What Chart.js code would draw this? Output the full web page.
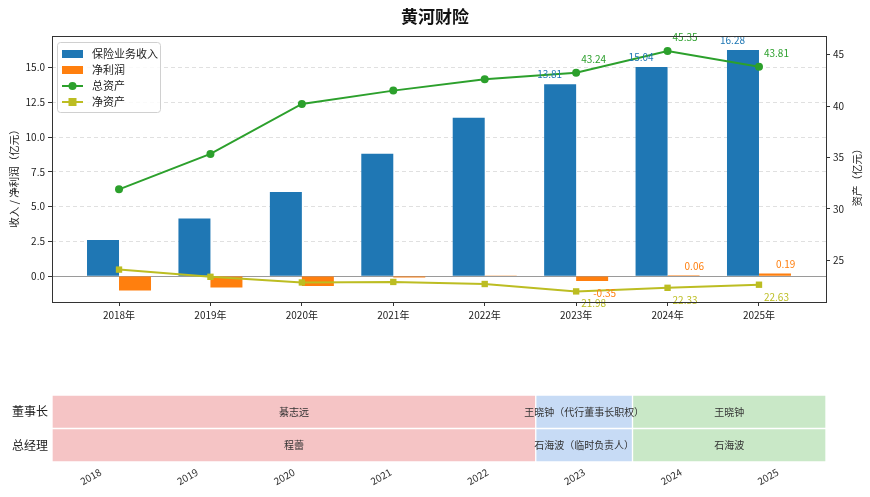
<!DOCTYPE html>
<html><head><meta charset="utf-8">
<script src="https://cdn.jsdelivr.net/npm/chart.js@4.4.0/dist/chart.umd.min.js"></script>
<style>
html,body{margin:0;padding:0;background:#fff;width:870px;height:497px;overflow:hidden}
#top{position:absolute;left:0;top:0}
#bot{position:absolute;left:0;top:340px}
</style></head><body>
<canvas id="top" width="870" height="340" style="width:870px;height:340px"></canvas>
<canvas id="bot" width="870" height="157" style="width:870px;height:157px"></canvas>
<script>
// ---------- data ----------
const years = ['2018','2019','2020','2021','2022','2023','2024','2025'];
const revenue = [2.60, 4.15, 6.05, 8.80, 11.40, 13.81, 15.04, 16.28];
const netProfit = [-1.05, -0.82, -0.72, -0.10, 0.01, -0.35, 0.06, 0.19];
const totalAssets = [31.9, 35.35, 40.2, 41.5, 42.6, 43.24, 45.35, 43.81];
const netAssets = [24.1, 23.4, 22.85, 22.9, 22.7, 21.98, 22.33, 22.63];
const labeledYears = ['2023','2024','2025'];
const leftTicks = [0, 2.5, 5, 7.5, 10, 12.5, 15];
const rightTicks = [25, 30, 35, 40, 45];
const roles = ['董事长','总经理'];
const chairNames = ['綦志远','王晓钟（代行董事长职权）','王晓钟'];
const chairStart = [2018, 2023, 2024];
const chairEnd = [2023, 2024, 2026];
const gmNames = ['程蕾','石海波（临时负责人）','石海波'];
const gmStart = [2018, 2023, 2024];
const gmEnd = [2023, 2024, 2026];

// ---------- styles ----------
const FONT = '"Noto Sans CJK SC", "DejaVu Sans", sans-serif';
Chart.defaults.font.family = FONT;
Chart.defaults.color = '#222';
const C_BLUE = '#1f77b4', C_ORANGE = '#ff7f0e', C_GREEN = '#2ca02c', C_OLIVE = '#bcbd22';
const periodColors = ['#f5c4c5', '#c7dbf5', '#c9e8c7'];

const labelIdx = labeledYears.map(y => years.indexOf(y));

const topPlugin = {
  id: 'topDecor',
  beforeDatasetsDraw(chart) {
    const {ctx, chartArea: a, scales} = chart;
    const y0 = scales.y.getPixelForValue(0);
    ctx.save();
    ctx.strokeStyle = '#9a9a9a'; ctx.lineWidth = 1;
    ctx.beginPath(); ctx.moveTo(a.left, Math.round(y0) + 0.5); ctx.lineTo(a.right, Math.round(y0) + 0.5); ctx.stroke();
    ctx.restore();
  },
  afterDatasetsDraw(chart) {
    const {ctx} = chart;
    ctx.save();
    ctx.font = '10px ' + FONT;
    ctx.textBaseline = 'middle';
    const m0 = chart.getDatasetMeta(0), m1 = chart.getDatasetMeta(1), m2 = chart.getDatasetMeta(2), m3 = chart.getDatasetMeta(3);
    labelIdx.forEach(i => {
      let el = m0.data[i];
      ctx.fillStyle = C_BLUE; ctx.textAlign = 'right';
      ctx.fillText(revenue[i].toFixed(2), el.x + 2, el.y - 10);
      el = m1.data[i];
      ctx.fillStyle = C_ORANGE; ctx.textAlign = 'left';
      ctx.fillText(netProfit[i].toFixed(2), el.x + 1, netProfit[i] >= 0 ? el.y - 9 : el.y + 12);
      el = m2.data[i];
      ctx.fillStyle = C_GREEN; ctx.textAlign = 'left';
      ctx.fillText(totalAssets[i].toFixed(2), el.x + 5, el.y - 14);
      el = m3.data[i];
      ctx.fillStyle = C_OLIVE; ctx.textAlign = 'left';
      ctx.fillText(netAssets[i].toFixed(2), el.x + 5, el.y + 12);
    });
    ctx.restore();
  },
  afterDraw(chart) {
    const {ctx, chartArea: a} = chart;
    ctx.save();
    // frame
    ctx.strokeStyle = '#333'; ctx.lineWidth = 1;
    ctx.strokeRect(Math.round(a.left) + 0.5, Math.round(a.top) + 0.5, Math.round(a.right - a.left), Math.round(a.bottom - a.top));
    // title
    ctx.fillStyle = '#111'; ctx.font = 'bold 17px ' + FONT; ctx.textAlign = 'center'; ctx.textBaseline = 'middle';
    ctx.fillText('黄河财险', 435, 17);
    // axis titles
    ctx.font = '10.5px ' + FONT; ctx.fillStyle = '#222';
    ctx.save(); ctx.translate(14, 176); ctx.rotate(-Math.PI / 2); ctx.fillText('收入 / 净利润（亿元）', 0, 0); ctx.restore();
    ctx.save(); ctx.translate(857, 175); ctx.rotate(-Math.PI / 2); ctx.fillText('资产（亿元）', 0, 0); ctx.restore();
    // legend
    const lx = a.left + 5, ly = a.top + 6, lw = 103, lh = 70;
    ctx.fillStyle = 'rgba(255,255,255,0.85)'; ctx.strokeStyle = '#d0d0d0'; ctx.lineWidth = 1;
    ctx.beginPath(); ctx.roundRect(lx + 0.5, ly + 0.5, lw, lh, 3); ctx.fill(); ctx.stroke();
    const items = chart.data.datasets;
    ctx.font = '11px ' + FONT; ctx.textAlign = 'left'; ctx.textBaseline = 'middle';
    items.forEach((ds, k) => {
      const yy = ly + 12 + k * 16;
      const hx = lx + 5;
      if (ds.type === 'bar') {
        ctx.fillStyle = ds.backgroundColor; ctx.fillRect(hx, yy - 4, 21, 8);
      } else {
        ctx.strokeStyle = ds.borderColor; ctx.lineWidth = 2;
        ctx.beginPath(); ctx.moveTo(hx, yy); ctx.lineTo(hx + 21, yy); ctx.stroke();
        ctx.fillStyle = ds.borderColor;
        if (ds.pointStyle === 'rect') { ctx.fillRect(hx + 10.5 - 4, yy - 4, 8, 8); }
        else { ctx.beginPath(); ctx.arc(hx + 10.5, yy, 4, 0, Math.PI * 2); ctx.fill(); }
      }
      ctx.fillStyle = '#222';
      ctx.fillText(ds.label, lx + 35, yy);
    });
    ctx.restore();
  }
};

const xyData = arr => arr.map((v, i) => ({x: i, y: v}));

new Chart(document.getElementById('top'), {
  type: 'bar',
  data: {
    datasets: [
      {type: 'bar', label: '保险业务收入', data: xyData(revenue), backgroundColor: C_BLUE, yAxisID: 'y', order: 2, categoryPercentage: 0.7, barPercentage: 1},
      {type: 'bar', label: '净利润', data: xyData(netProfit), backgroundColor: C_ORANGE, yAxisID: 'y', order: 2, categoryPercentage: 0.7, barPercentage: 1},
      {type: 'line', label: '总资产', data: xyData(totalAssets), borderColor: C_GREEN, backgroundColor: C_GREEN, pointStyle: 'circle', pointRadius: 4, pointBorderWidth: 0, borderWidth: 2, yAxisID: 'y1', order: 0},
      {type: 'line', label: '净资产', data: xyData(netAssets), borderColor: C_OLIVE, backgroundColor: C_OLIVE, pointStyle: 'rect', pointRadius: 4.5, pointBorderWidth: 0, borderWidth: 2, yAxisID: 'y1', order: 1}
    ]
  },
  options: {
    responsive: false, animation: false,
    layout: {padding: {top: 36, left: 0, right: 0, bottom: 0}},
    plugins: {legend: {display: false}, tooltip: {enabled: false}},
    scales: {
      x: {
        type: 'linear', min: -0.733, max: 7.733, offset: false,
        afterBuildTicks: s => { s.ticks = years.map((y, i) => ({value: i})); },
        afterFit: s => { s.height = 38; },
        ticks: {autoSkip: false, maxRotation: 0, minRotation: 0, padding: 3, font: {size: 10}, color: '#222',
          callback: (v, idx) => years[idx] + '年'},
        grid: {display: true, offset: false, drawOnChartArea: false, drawTicks: true, tickLength: 4, tickColor: '#333'},
        border: {display: false}
      },
      y: {
        type: 'linear', position: 'left', min: -1.87, max: 17.28,
        afterBuildTicks: s => { s.ticks = leftTicks.map(v => ({value: v})); },
        afterFit: s => { s.width = 52; },
        ticks: {padding: 3, font: {size: 10}, color: '#222', callback: v => Number(v).toFixed(1)},
        grid: {display: true, drawOnChartArea: true, color: 'rgba(190,190,190,0.6)', lineWidth: 0.8, drawTicks: true, tickLength: 4, tickColor: '#333', tickWidth: 1, tickBorderDash: []},
        border: {display: false, dash: [4, 3]}
      },
      y1: {
        type: 'linear', position: 'right', min: 20.95, max: 46.81,
        afterBuildTicks: s => { s.ticks = rightTicks.map(v => ({value: v})); },
        afterFit: s => { s.width = 44; },
        ticks: {padding: 3, font: {size: 10}, color: '#222', callback: v => String(v)},
        grid: {display: true, drawOnChartArea: false, drawTicks: true, tickLength: 4, tickColor: '#333'},
        border: {display: false}
      }
    }
  },
  plugins: [topPlugin]
});

// ---------- bottom timeline ----------
const segs = [];
chairNames.forEach((n, i) => segs.push({row: 0, name: n, s: chairStart[i], e: chairEnd[i], c: periodColors[i]}));
gmNames.forEach((n, i) => segs.push({row: 1, name: n, s: gmStart[i], e: gmEnd[i], c: periodColors[i]}));

const botPlugin = {
  id: 'botText',
  afterDatasetsDraw(chart) {
    const {ctx} = chart;
    ctx.save();
    ctx.font = '10px ' + FONT; ctx.fillStyle = '#333'; ctx.textAlign = 'center'; ctx.textBaseline = 'middle';
    chart.data.datasets.forEach((ds, di) => {
      const meta = chart.getDatasetMeta(di);
      meta.data.forEach((el, ri) => {
        if (ds.data[ri] == null) return;
        ctx.fillText(ds.label, (el.x + el.base) / 2, el.y);
      });
    });
    ctx.restore();
  }
};

new Chart(document.getElementById('bot'), {
  type: 'bar',
  data: {
    labels: roles,
    datasets: segs.map(sg => ({
      label: sg.name,
      data: roles.map((r, ri) => ri === sg.row ? [sg.s, sg.e] : null),
      backgroundColor: sg.c, borderColor: '#ffffff', borderWidth: 1, borderSkipped: false,
      grouped: false, barPercentage: 1, categoryPercentage: 1
    }))
  },
  options: {
    indexAxis: 'y', responsive: false, animation: false,
    layout: {padding: {top: 55, left: 0, right: 44, bottom: 0}},
    plugins: {legend: {display: false}, tooltip: {enabled: false}},
    scales: {
      x: {
        type: 'linear', min: 2018, max: 2026,
        afterBuildTicks: s => { s.ticks = years.map(y => ({value: Number(y) + 0.5})); },
        afterFit: s => { s.height = 35; },
        ticks: {autoSkip: false, minRotation: 30, maxRotation: 30, padding: 4, font: {size: 10}, color: '#333',
          callback: (v, idx) => years[idx]},
        grid: {display: false, drawTicks: false},
        border: {display: false}
      },
      y: {
        type: 'category',
        afterFit: s => { s.width = 52; },
        ticks: {padding: 4, font: {size: 12}, color: '#222'},
        grid: {display: false, drawTicks: false},
        border: {display: false}
      }
    }
  },
  plugins: [botPlugin]
});
</script>
</body></html>
